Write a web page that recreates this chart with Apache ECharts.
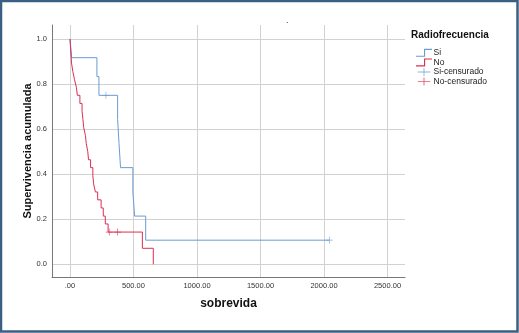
<!DOCTYPE html>
<html>
<head>
<meta charset="utf-8">
<script src="https://cdn.jsdelivr.net/npm/echarts@6/dist/echarts.min.js"></script>
<style>
html,body{margin:0;padding:0;background:#fff;}
#chart{width:519px;height:333px;}
</style>
</head>
<body>
<div id="chart"></div>
<script>
// ---- Data (Kaplan-Meier steps) ----
const siTimes = [0, 13, 212, 228, 375, 386, 398, 495, 509, 596, 2042];
const siSurv  = [1.0, 0.917, 0.833, 0.75, 0.643, 0.536, 0.429, 0.321, 0.214, 0.107, 0.107];
const siCensorTimes = [283, 2042];
const siCensorSurv  = [0.75, 0.107];

const noTimes = [0, 4, 8, 12, 22, 35, 50, 58, 78, 95, 102, 108, 122, 128, 140, 146, 162, 180, 186, 200, 218, 245, 262, 278, 300, 570, 656];
const noSurv  = [1.0, 0.964, 0.929, 0.893, 0.857, 0.821, 0.786, 0.75, 0.714, 0.679, 0.643, 0.607, 0.571, 0.536, 0.5, 0.464, 0.429, 0.393, 0.357, 0.321, 0.286, 0.25, 0.214, 0.179, 0.143, 0.071, 0.0];
const noCensorTimes = [309, 375];
const noCensorSurv  = [0.143, 0.143];

const xTicks = [0, 500, 1000, 1500, 2000, 2500];
const yTicks = [0, 0.2, 0.4, 0.6, 0.8, 1.0];

const seriesNames = ['Si', 'No', 'Si-censurado', 'No-censurado'];
const legendTitle = 'Radiofrecuencia';
const xTitle = 'sobrevida';
const yTitle = 'Supervivencia acumulada';

// ---- Styles ----
const BLUE = '#6b9bd1';
const RED = '#dc2f52';
const FONT = 'Liberation Sans, Arial, sans-serif';

const zip = (a, b) => a.map((v, i) => [v, b[i]]);
const crossPath = 'path://M0,4.5h10v1h-10z M4.5,0h1v10h-1z';
const stepIcon = 'path://M0,7h7v-6h7v1h-6v6h-8z';
const censIcon = 'path://M0,4h6.5v-4h1v4h6.5v1h-6.5v4h-1v-4h-6.5z';

const chart = echarts.init(document.getElementById('chart'), null, {renderer: 'canvas'});
chart.setOption({
  backgroundColor: '#ffffff',
  animation: false,
  textStyle: {fontFamily: FONT},
  title: {
    text: legendTitle,
    left: 406, top: 25,
    textStyle: {fontSize: 10, fontWeight: 'bold', color: '#111', fontFamily: FONT}
  },
  legend: {
    orient: 'vertical',
    left: 411, top: 43,
    itemWidth: 17, itemHeight: 8,
    itemGap: 0,
    selectedMode: false,
    textStyle: {fontSize: 8.5, lineHeight: 9.6, color: '#222', fontFamily: FONT, padding: [0, 0, 0, -4]},
    data: [
      {name: seriesNames[0], icon: stepIcon},
      {name: seriesNames[1], icon: stepIcon},
      {name: seriesNames[2], icon: censIcon},
      {name: seriesNames[3], icon: censIcon}
    ]
  },
  grid: {left: 52, right: 114, top: 25, bottom: 56, containLabel: false},
  xAxis: {
    type: 'value',
    min: -141.7, max: 2637.8,
    name: xTitle,
    nameLocation: 'middle',
    nameGap: 21,
    nameMoveOverlap: false,
    nameTextStyle: {fontSize: 12, fontWeight: 'bold', color: '#111', fontFamily: FONT},
    axisLine: {show: true, onZero: false, lineStyle: {color: '#777', width: 1}},
    axisTick: {show: false, customValues: xTicks},
    axisLabel: {
      customValues: xTicks,
      fontSize: 7.5, color: '#333', margin: 5,
      formatter: v => v === 0 ? '.00' : v.toFixed(2)
    },
    splitLine: {show: true, lineStyle: {color: '#d2d2d2', width: 1}}
  },
  yAxis: {
    type: 'value',
    min: -0.0564, max: 1.0621,
    name: yTitle,
    nameLocation: 'middle',
    nameGap: 19,
    nameMoveOverlap: false,
    nameTextStyle: {fontSize: 11, fontWeight: 'bold', color: '#111', fontFamily: FONT},
    axisLine: {show: true, onZero: false, lineStyle: {color: '#777', width: 1}},
    axisTick: {show: false, customValues: yTicks},
    axisLabel: {
      customValues: yTicks,
      fontSize: 7.5, color: '#333', margin: 5,
      formatter: v => v.toFixed(1)
    },
    splitLine: {show: true, lineStyle: {color: '#d2d2d2', width: 1}}
  },
  series: [
    {
      name: seriesNames[0], type: 'line', step: 'end',
      data: zip(siTimes, siSurv),
      showSymbol: false, symbol: 'none',
      color: BLUE,
      lineStyle: {color: BLUE, width: 1}, z: 3
    },
    {
      name: seriesNames[1], type: 'line', step: 'end',
      data: zip(noTimes, noSurv),
      showSymbol: false, symbol: 'none',
      color: RED,
      lineStyle: {color: RED, width: 1}, z: 4
    },
    {
      name: seriesNames[2], type: 'scatter',
      data: zip(siCensorTimes, siCensorSurv),
      symbol: crossPath, symbolSize: 7,
      color: BLUE, itemStyle: {color: BLUE}, z: 5
    },
    {
      name: seriesNames[3], type: 'scatter',
      data: zip(noCensorTimes, noCensorSurv),
      symbol: crossPath, symbolSize: 7,
      color: RED, itemStyle: {color: RED}, z: 6
    }
  ],
  graphic: [
    {type: 'text', left: 286, top: 16, style: {text: '.', fontSize: 9, fill: '#333', font: '9px ' + FONT}},
    {type: 'rect', shape: {x: 1, y: 1, width: 516.5, height: 330.5}, style: {fill: 'none', stroke: '#3b5f82', lineWidth: 2.5}, silent: true, z: 100}
  ]
});
</script>
</body>
</html>
